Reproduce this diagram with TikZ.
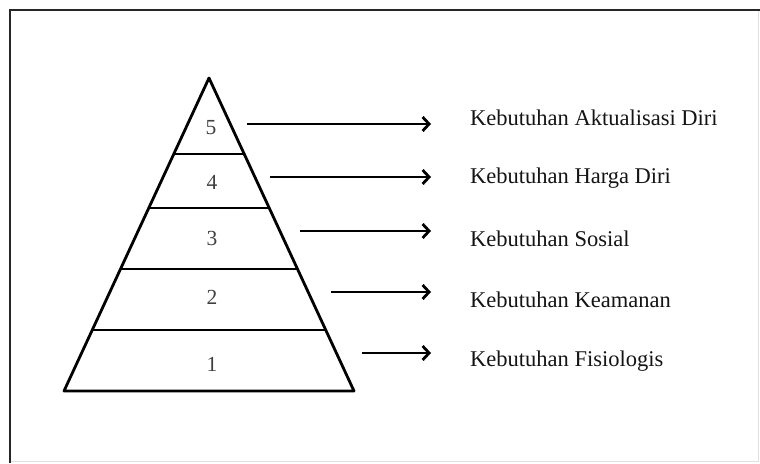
\documentclass[tikz,border=0pt]{standalone}
\usepackage{fontspec}
\setmainfont{Liberation Serif}
\usetikzlibrary{arrows.meta}
\begin{document}
\begin{tikzpicture}[x=1pt,y=-1pt,
  edge/.style={line width=2.8pt,line join=round},
  frameline/.style={line width=2.8pt,black!85},
  arr/.style={line width=2.8pt,-{Straight Barb[length=6.5pt,width=14pt,line width=2.8pt]}},
  lvl/.style={font=\fontsize{21.5}{24}\selectfont,text=black!75,inner sep=0pt},
  lbl/.style={font=\fontsize{22.5}{26}\selectfont,text=black!92,anchor=west,inner sep=0pt}]
\useasboundingbox (0,0) rectangle (760,463);
% frame
\draw[black!12,line width=0.6pt] (758.5,10) -- (758.5,461.5) -- (10,461.5);
\draw[frameline] (10,463) -- (10,10) -- (760,10);
% pyramid outline
\coordinate (apex) at (209,78);
\coordinate (bl) at (64,391);
\coordinate (br) at (354,391);
\draw[edge] (apex) -- (bl) -- (br) -- cycle;
% dividing lines between levels
\draw[edge] (173.8,154) -- (244.2,154);
\draw[edge] (148.8,208) -- (269.2,208);
\draw[edge] (120.5,269) -- (297.5,269);
\draw[edge] (92.3,330) -- (325.7,330);
% level numbers
\node[lvl] (n5) at (211,128) {5};
\node[lvl] (n4) at (212,182) {4};
\node[lvl] (n3) at (212,238) {3};
\node[lvl] (n2) at (212,297) {2};
\node[lvl] (n1) at (212,364) {1};
% labels
\node[lbl] (l5) at (470,118) {Kebutuhan Aktualisasi Diri};
\node[lbl] (l4) at (470,178.5) {Kebutuhan Harga Diri};
\node[lbl] (l3) at (470,239) {Kebutuhan Sosial};
\node[lbl] (l2) at (470,300) {Kebutuhan Keamanan};
\node[lbl] (l1) at (470,361) {Kebutuhan Fisiologis};
% arrow end points
\coordinate (a5) at (247,124);
\coordinate (a4) at (270,177);
\coordinate (a3) at (300,231);
\coordinate (a2) at (331,292);
\coordinate (a1) at (362,353);
\coordinate (b5) at (431,124);
\coordinate (b4) at (431,177);
\coordinate (b3) at (431,231);
\coordinate (b2) at (431,292);
\coordinate (b1) at (431,353);
\foreach \i in {1,...,5} \draw[arr] (a\i) -- (b\i);
\end{tikzpicture}
\end{document}
